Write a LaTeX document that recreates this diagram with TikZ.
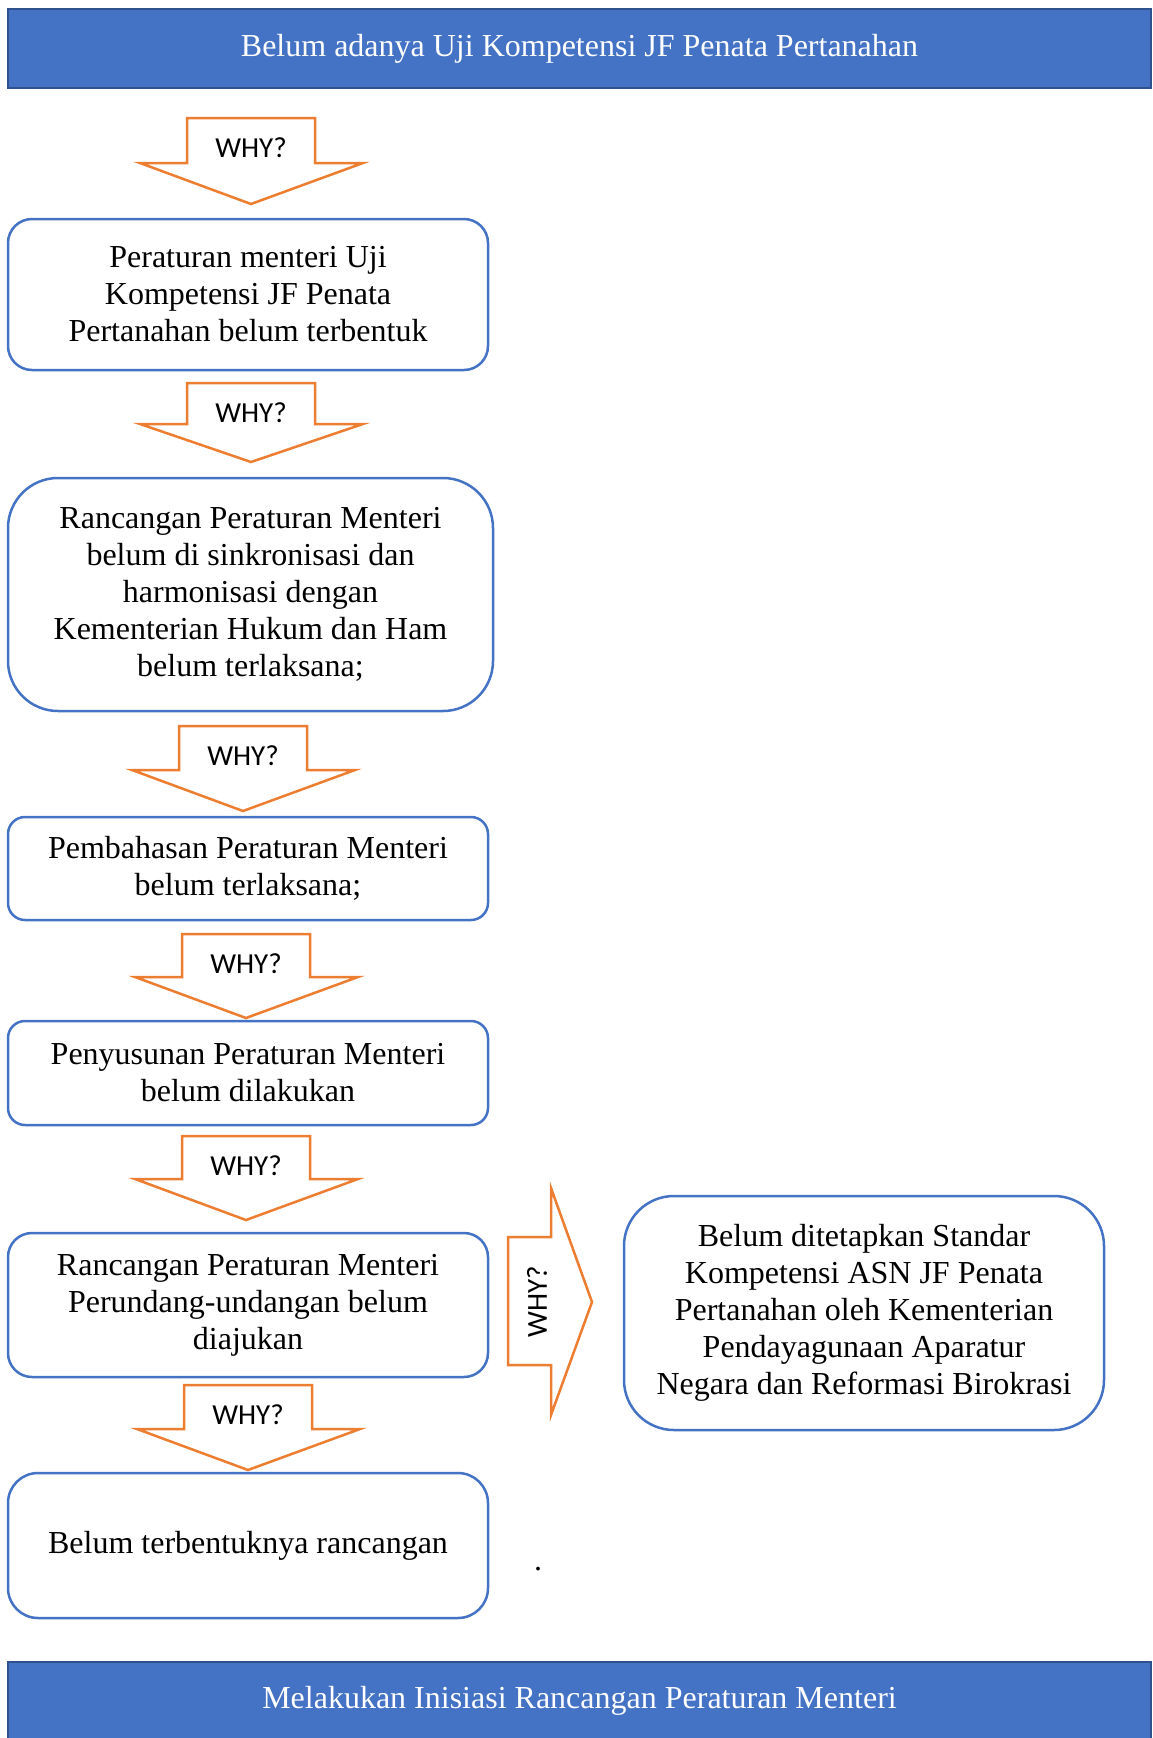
\documentclass[tikz,border=0pt]{standalone}
\usepackage{fontspec}
\setmainfont{Liberation Serif}
\newfontfamily\whyfont{Carlito}
\definecolor{hdrblue}{HTML}{4472C4}
\definecolor{hdredge}{HTML}{2F528F}
\definecolor{whyorange}{HTML}{ED7D31}
\tikzset{
  header/.style={draw=hdredge, line width=2pt, fill=hdrblue, text=white,
    minimum width=1143pt, minimum height=79pt, font=\fontsize{32}{37}\selectfont},
  causebox/.style={draw=hdrblue, line width=2.5pt, fill=white, align=center,
    minimum width=480pt, inner sep=0pt, font=\fontsize{32}{37}\selectfont},
  whyarrow/.style={draw=whyorange, line width=2.5pt, fill=white},
  whytext/.style={font=\whyfont\fontsize{29}{34}\selectfont},
}
\begin{document}
\begin{tikzpicture}[x=1pt, y=-1pt]
\useasboundingbox (0,0) rectangle (1152,1738);
\node[header] (top) at (579.5,48.5) {Belum adanya Uji Kompetensi JF Penata Pertanahan};
\node[header] (bottom) at (579.5,1701) {Melakukan Inisiasi Rancangan Peraturan Menteri};

% down arrows: left of shaft / top / shoulder / tip
\foreach \x/\t/\s/\p/\n in {187/118/163/204/1, 187/383/424/462/2, 179/726/770/811/3,
                            182/934/977/1018/4, 182/1136/1179/1220/5, 184/1385/1429/1470/6} {
  \draw[whyarrow] (\x,\t) -- (\x+128,\t) -- (\x+128,\s) -- (\x+176,\s) -- (\x+64,\p)
    -- (\x-47,\s) -- (\x,\s) -- cycle;
  \node[whytext] (why\n) at (\x+64,\t+30) {WHY?};
}

\node[causebox, rounded corners=24pt, minimum height=151pt] (permen) at (248,294.5)
  {Peraturan menteri Uji\\Kompetensi JF Penata\\Pertanahan belum terbentuk};
\node[causebox, rounded corners=50pt, minimum width=485pt, minimum height=233pt] (sinkron) at (250.5,594.5)
  {Rancangan Peraturan Menteri\\belum di sinkronisasi dan\\harmonisasi dengan\\Kementerian Hukum dan Ham\\belum terlaksana;};
\node[causebox, rounded corners=17pt, minimum height=103pt] (bahas) at (248,868.5)
  {Pembahasan Peraturan Menteri\\belum terlaksana;};
\node[causebox, rounded corners=17pt, minimum height=104pt] (susun) at (248,1073)
  {Penyusunan Peraturan Menteri\\belum dilakukan};
\node[causebox, rounded corners=24pt, minimum height=144pt] (aju) at (248,1305)
  {Rancangan Peraturan Menteri\\Perundang-undangan belum\\diajukan};
\node[causebox, rounded corners=30pt, minimum height=145pt] (bentuk) at (248,1545.5)
  {Belum terbentuknya rancangan};

% side arrow
\draw[whyarrow] (508,1237) -- (551,1237) -- (551,1188) -- (592,1302) -- (551,1415)
  -- (551,1365) -- (508,1365) -- cycle;
\node[whytext, rotate=90] (whyside) at (537,1302) {WHY?};
\node[causebox, rounded corners=50pt, minimum height=234pt] (standar) at (864,1313)
  {Belum ditetapkan Standar\\Kompetensi ASN JF Penata\\Pertanahan oleh Kementerian\\Pendayagunaan Aparatur\\Negara dan Reformasi Birokrasi};

\node[anchor=base, font=\fontsize{32}{37}\selectfont] (dot) at (538,1570) {.};
\end{tikzpicture}
\end{document}
